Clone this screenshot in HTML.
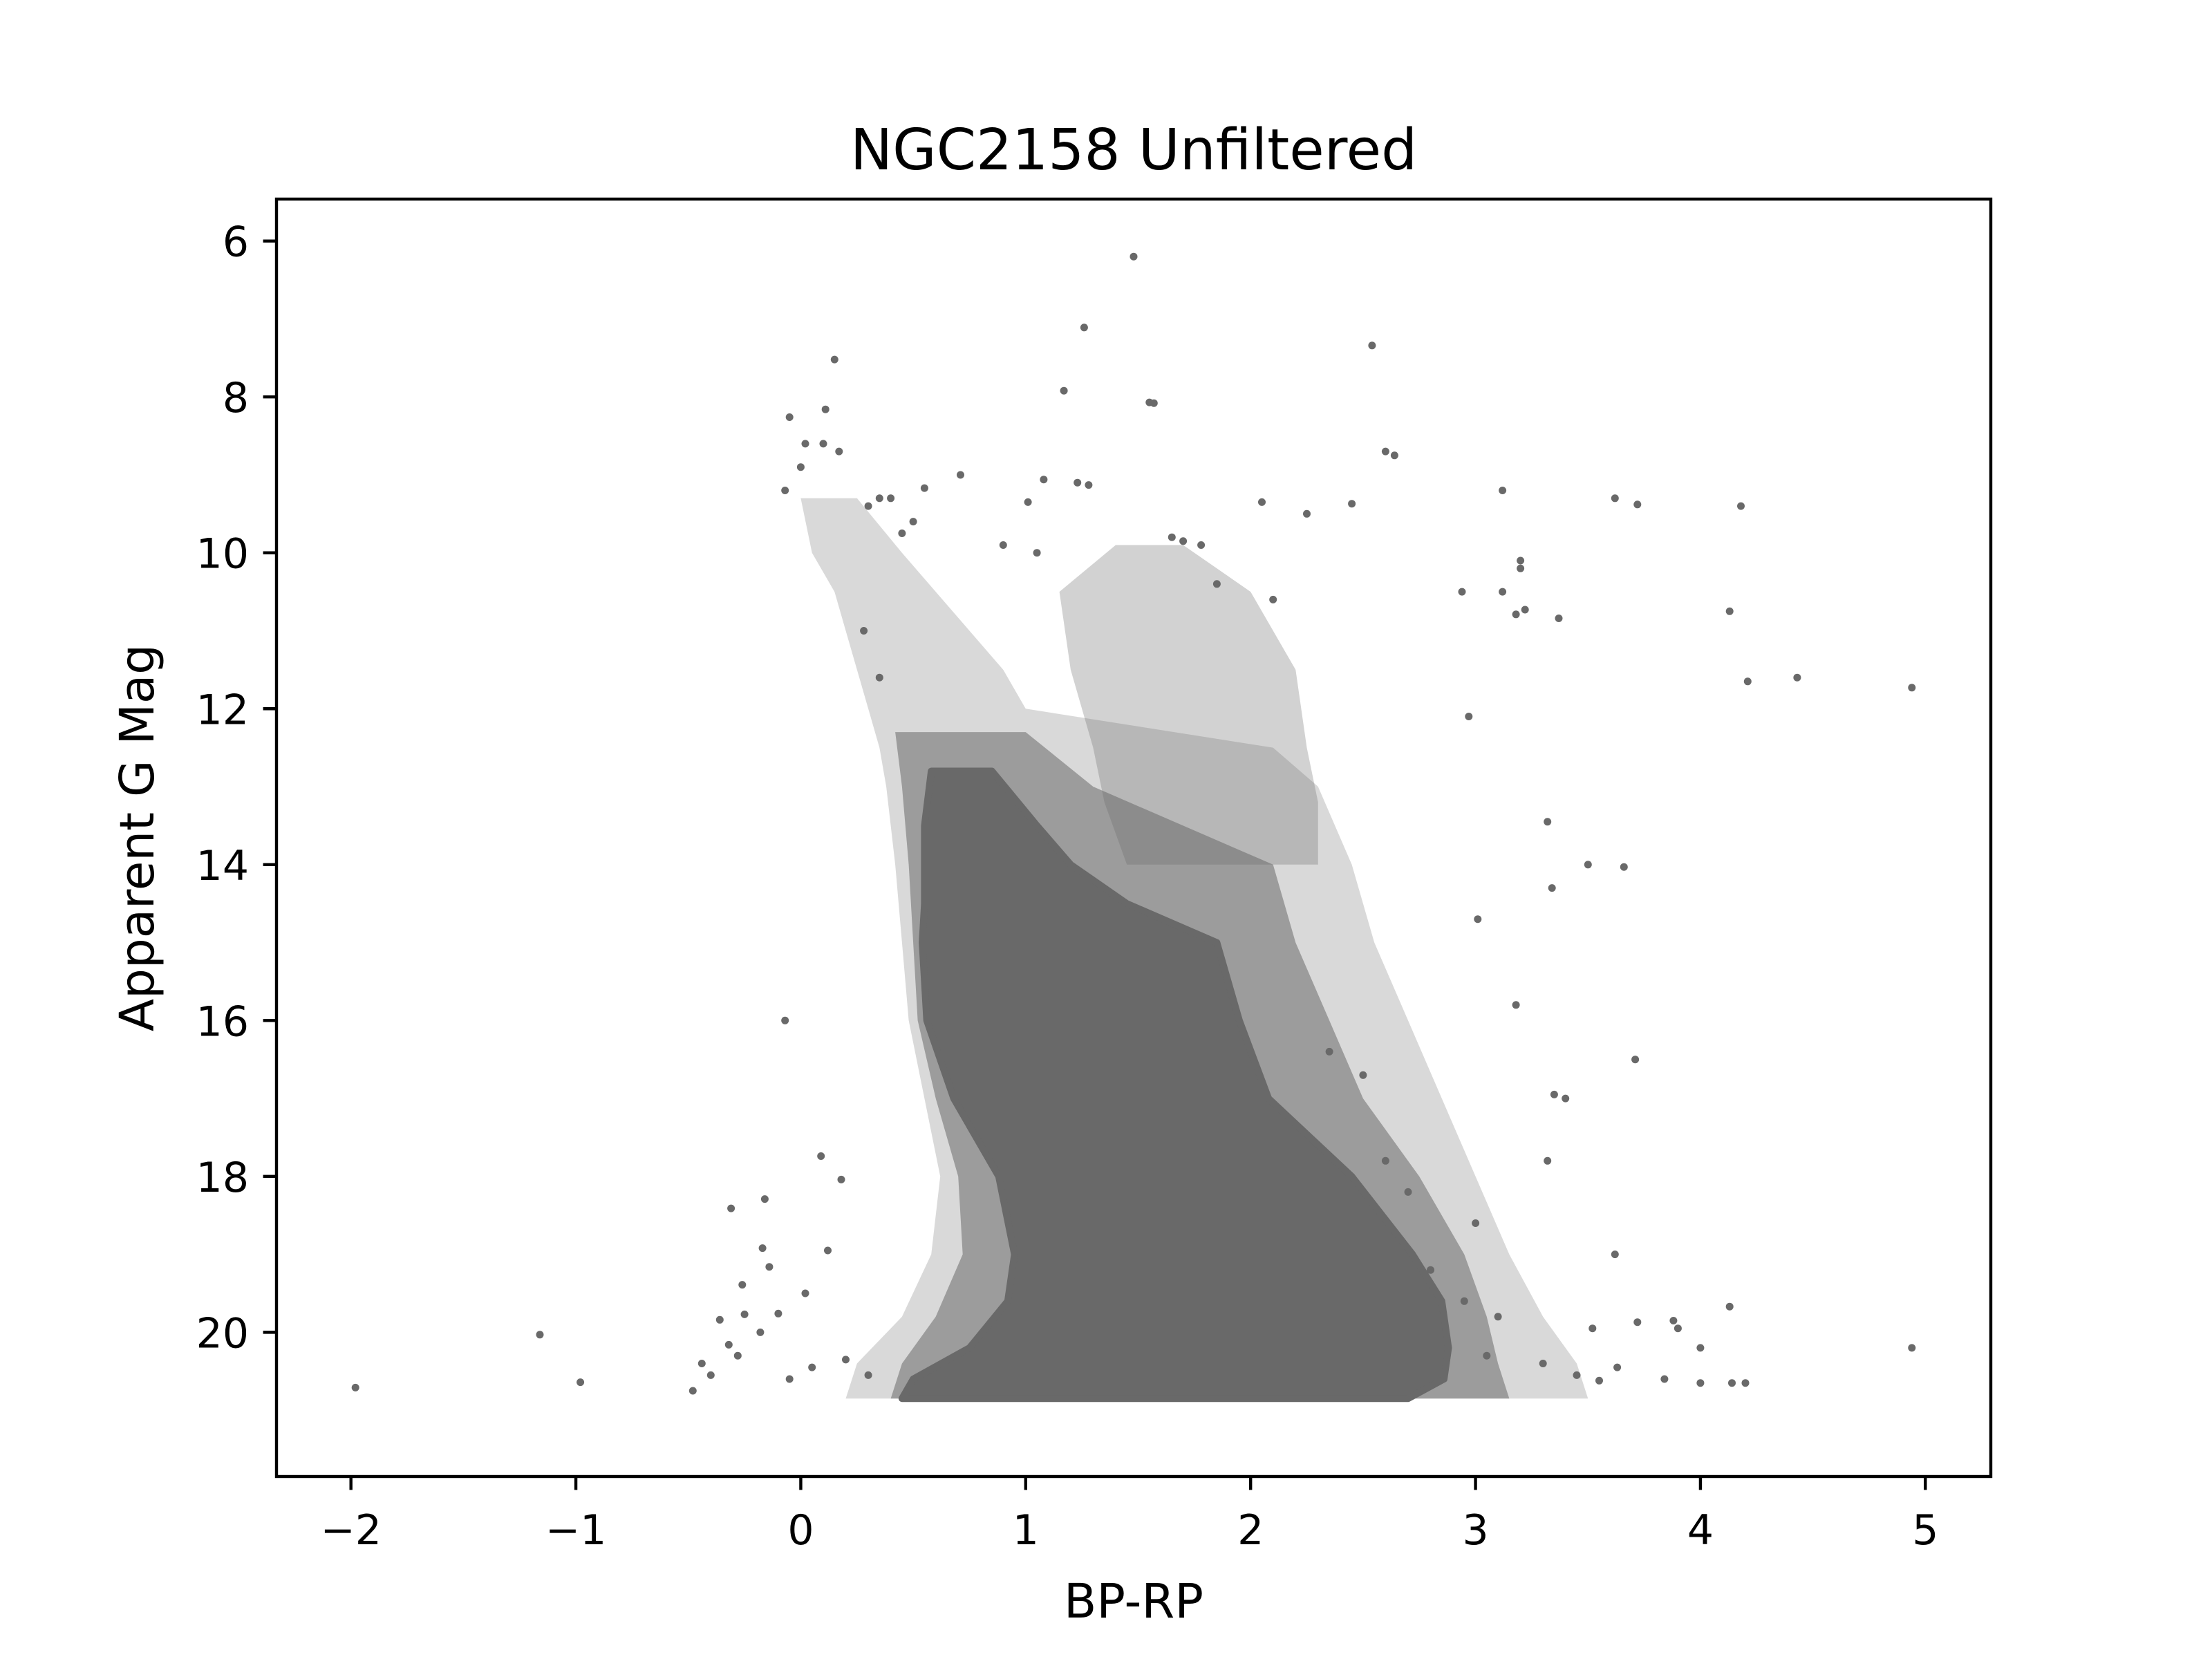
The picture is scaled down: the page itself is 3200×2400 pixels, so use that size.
<!DOCTYPE html>
<html><head><meta charset="utf-8">
<style>
html,body{margin:0;padding:0;background:#fff;}
svg{display:block;}
text{font-family:"DejaVu Sans","Liberation Sans",sans-serif;fill:#000;}
</style></head>
<body>
<svg id="chart" width="3200" height="2400" viewBox="0 0 3200 2400" xmlns="http://www.w3.org/2000/svg">
  <rect x="0" y="0" width="3200" height="2400" fill="#fff"/>
  <text x="1640" y="245" font-size="82" text-anchor="middle">NGC2158 Unfiltered</text>
  <g id="marks"></g>
  <rect x="400" y="288" width="2480" height="1848" fill="none" stroke="#000" stroke-width="4.4"/>
  <g id="xticks"></g>
  <g id="yticks"></g>
  <text x="1640" y="2340" font-size="69" text-anchor="middle">BP-RP</text>
  <text x="0" y="0" font-size="69" text-anchor="middle" transform="translate(222,1212) rotate(-90)">Apparent G Mag</text>
</svg>
<script>
// ---- data ----
const xTicks = [-2,-1,0,1,2,3,4,5];
const xTickLabels = ["\u22122","\u22121","0","1","2","3","4","5"];
const yTicks = [6,8,10,12,14,16,18,20];
const yTickLabels = ["6","8","10","12","14","16","18","20"];

// dense core of the CMD: magnitude rows with left/right colour bounds
const coreMag   = [12.8, 13.5, 14.0, 14.5, 15.0, 16.0, 17.0, 18.0, 19.0, 19.6, 20.2, 20.6, 20.85];
const coreLeft  = [0.58, 0.55, 0.55, 0.55, 0.54, 0.56, 0.68, 0.88, 0.95, 0.92, 0.75, 0.50, 0.45];
const coreRight = [0.85, 1.05, 1.20, 1.45, 1.85, 1.95, 2.08, 2.45, 2.72, 2.85, 2.88, 2.86, 2.70];

// inner halo (moderately dense)
const innerMag   = [12.3, 13.0, 14.0, 15.0, 16.0, 17.0, 18.0, 19.0, 19.8, 20.4, 20.85];
const innerLeft  = [0.42, 0.45, 0.48, 0.50, 0.52, 0.60, 0.70, 0.72, 0.60, 0.45, 0.40];
const innerRight = [1.00, 1.30, 2.10, 2.20, 2.35, 2.50, 2.75, 2.95, 3.05, 3.10, 3.15];

// outer halo (sparse field)
const haloMag   = [9.3, 10.0, 10.5, 11.0, 11.5, 12.0, 12.5, 13.0, 14.0, 15.0, 16.0, 17.0, 18.0, 19.0, 19.8, 20.4, 20.85];
const haloLeft  = [0.00, 0.05, 0.15, 0.20, 0.25, 0.30, 0.35, 0.38, 0.42, 0.45, 0.48, 0.55, 0.62, 0.58, 0.45, 0.25, 0.20];
const haloRight = [0.25, 0.45, 0.60, 0.75, 0.90, 1.00, 2.10, 2.30, 2.45, 2.55, 2.70, 2.85, 3.00, 3.15, 3.30, 3.45, 3.50];

// giant-branch halo
const gbMag   = [9.9, 10.5, 11.5, 12.5, 13.2, 14.0];
const gbLeft  = [1.40, 1.15, 1.20, 1.30, 1.35, 1.45];
const gbRight = [1.70, 2.00, 2.20, 2.25, 2.30, 2.30];

// individual sparse stars
const starX = [1.48,1.26,2.54,0.15,1.17,1.55,1.57,-0.05,0.11,0.02,0.10,0.17,0.00,2.60,2.64,0.71,3.12,3.62,3.72,4.18,2.05,2.25,2.45,1.08,1.23,1.28,1.01,-0.07,0.55,0.50,0.45,3.20,3.20,2.94,3.12,4.13,3.18,3.22,3.37,4.21,4.43,4.94,2.97,3.32,3.50,3.66,3.34,3.01,3.18,3.71,3.35,3.40,3.32,3.62,-0.07,4.94,4.13,3.88,3.90,3.72,3.52,4.14,4.20,4.00,4.00,3.84,3.63,-1.98,-1.16,-0.98,-0.31,-0.16,0.09,0.18,-0.17,0.12,-0.26,-0.14,-0.25,-0.32,-0.18,-0.48,-0.44,-0.36,-0.10,0.02,-0.40,-0.28,-0.05,0.05,0.20,0.30,3.45,3.55,3.30,3.05,2.95,2.80,3.10,2.60,2.70,3.00,2.35,2.50,0.35,0.40,0.30,1.70,1.78,1.65,0.90,1.05,1.85,2.10,0.28,0.35];
const starMag = [6.2,7.11,7.34,7.52,7.92,8.07,8.08,8.26,8.16,8.60,8.60,8.70,8.90,8.70,8.75,9.00,9.20,9.30,9.38,9.40,9.35,9.50,9.37,9.06,9.10,9.13,9.35,9.20,9.17,9.60,9.75,10.10,10.20,10.50,10.50,10.75,10.79,10.73,10.84,11.65,11.60,11.73,12.10,13.45,14.00,14.03,14.30,14.70,15.80,16.50,16.95,17.00,17.80,19.00,16.00,20.20,19.67,19.85,19.95,19.87,19.95,20.65,20.65,20.20,20.65,20.60,20.45,20.71,20.03,20.64,18.41,18.29,17.74,18.04,18.92,18.95,19.39,19.16,19.77,20.16,20.00,20.75,20.40,19.84,19.76,19.50,20.55,20.30,20.60,20.45,20.35,20.55,20.55,20.62,20.40,20.30,19.60,19.20,19.80,17.80,18.20,18.60,16.40,16.70,9.30,9.30,9.40,9.85,9.90,9.80,9.90,10.00,10.40,10.60,11.00,11.60];

// ---- axes ----
const AX = {left:400, right:2880, top:288, bottom:2136, xmin:-2.331, xmax:5.291, ymin:5.462, ymax:21.85};
function xs(v){ return AX.left + (v - AX.xmin) / (AX.xmax - AX.xmin) * (AX.right - AX.left); }
function ys(v){ return AX.top + (v - AX.ymin) / (AX.ymax - AX.ymin) * (AX.bottom - AX.top); }

const NS = "http://www.w3.org/2000/svg";
const marks = document.getElementById('marks');
const COLOR = "#696969";

function bandPath(mags, lefts, rights){
  let pts = [];
  for (let i=0;i<mags.length;i++) pts.push(xs(lefts[i]).toFixed(1)+","+ys(mags[i]).toFixed(1));
  for (let i=mags.length-1;i>=0;i--) pts.push(xs(rights[i]).toFixed(1)+","+ys(mags[i]).toFixed(1));
  return pts.join(" ");
}

const halo = document.createElementNS(NS,'polygon');
halo.setAttribute('points', bandPath(haloMag, haloLeft, haloRight));
halo.setAttribute('fill', COLOR);
halo.setAttribute('fill-opacity', '0.25');


marks.appendChild(halo);

const gb = document.createElementNS(NS,'polygon');
gb.setAttribute('points', bandPath(gbMag, gbLeft, gbRight));
gb.setAttribute('fill', COLOR);
gb.setAttribute('fill-opacity', '0.3');


marks.appendChild(gb);

const inner = document.createElementNS(NS,'polygon');
inner.setAttribute('points', bandPath(innerMag, innerLeft, innerRight));
inner.setAttribute('fill', COLOR);
inner.setAttribute('fill-opacity', '0.55');


marks.appendChild(inner);

const core = document.createElementNS(NS,'polygon');
core.setAttribute('points', bandPath(coreMag, coreLeft, coreRight));
core.setAttribute('fill', COLOR);
core.setAttribute('stroke', COLOR);
core.setAttribute('stroke-width', '10');
core.setAttribute('stroke-linejoin', 'round');


marks.appendChild(core);

for (let i=0;i<starX.length;i++){
  const c = document.createElementNS(NS,'circle');
  c.setAttribute('cx', xs(starX[i]).toFixed(1));
  c.setAttribute('cy', ys(starMag[i]).toFixed(1));
  c.setAttribute('r', '5.5');
  c.setAttribute('fill', COLOR);
  
  
  marks.appendChild(c);
}

// ticks
const xg = document.getElementById('xticks');
for (let i=0;i<xTicks.length;i++){
  const x = xs(xTicks[i]);
  const l = document.createElementNS(NS,'line');
  l.setAttribute('x1',x); l.setAttribute('x2',x);
  l.setAttribute('y1',AX.bottom); l.setAttribute('y2',AX.bottom+19.4);
  l.setAttribute('stroke','#000'); l.setAttribute('stroke-width','4.4');
  
  
  xg.appendChild(l);
  const t = document.createElementNS(NS,'text');
  t.setAttribute('x',x); t.setAttribute('y',AX.bottom+98);
  t.setAttribute('font-size','60'); t.setAttribute('text-anchor','middle');
  t.textContent = xTickLabels[i];
  
  
  xg.appendChild(t);
}
const yg = document.getElementById('yticks');
for (let i=0;i<yTicks.length;i++){
  const y = ys(yTicks[i]);
  const l = document.createElementNS(NS,'line');
  l.setAttribute('x1',AX.left-19.4); l.setAttribute('x2',AX.left);
  l.setAttribute('y1',y); l.setAttribute('y2',y);
  l.setAttribute('stroke','#000'); l.setAttribute('stroke-width','4.4');
  
  
  yg.appendChild(l);
  const t = document.createElementNS(NS,'text');
  t.setAttribute('x',AX.left-40); t.setAttribute('y',y+22);
  t.setAttribute('font-size','60'); t.setAttribute('text-anchor','end');
  t.textContent = yTickLabels[i];
  
  
  yg.appendChild(t);
}
</script>
</body></html>
